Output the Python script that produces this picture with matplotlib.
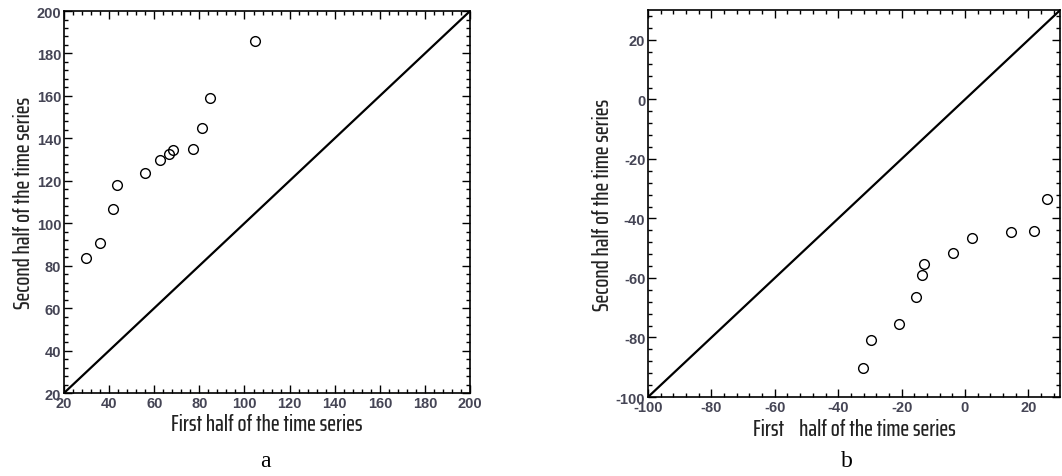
import numpy as np
import matplotlib.pyplot as plt
from matplotlib.ticker import MultipleLocator

# panel a data
xa = [29.6, 36.1, 41.7, 43.5, 56.1, 62.4, 66.7, 68.2, 77.0, 81.0, 84.9, 104.7]
ya = [83.4, 90.9, 106.8, 118.2, 123.6, 129.7, 132.8, 134.4, 135.0, 144.8, 158.9, 185.9]
lim_a = [20, 200]

# panel b data
xb = [-32.1, -29.5, -20.7, -15.4, -13.6, -12.8, -3.8, 2.1, 14.6, 21.7, 25.9]
yb = [-90.4, -80.9, -75.6, -66.5, -58.9, -55.2, -51.6, -46.7, -44.7, -44.1, -33.4]
lim_b = [-100, 30]

plt.rcParams['font.family'] = ['Arial', 'Liberation Sans', 'DejaVu Sans']
plt.rcParams['axes.unicode_minus'] = False

label_font = ['Saira ExtraCondensed', 'DejaVu Sans']
tick_col = '#454555'

fig = plt.figure(figsize=(10.62, 4.77), dpi=100, facecolor='white')
ax1 = fig.add_axes([0.0603, 0.174, 0.3823, 0.8008])
ax2 = fig.add_axes([0.6102, 0.1656, 0.388, 0.811])


def style(ax, lim, major):
    ax.set_xlim(lim)
    ax.set_ylim(lim)
    ax.xaxis.set_major_locator(MultipleLocator(major))
    ax.yaxis.set_major_locator(MultipleLocator(major))
    ax.xaxis.set_minor_locator(MultipleLocator(4))
    ax.yaxis.set_minor_locator(MultipleLocator(4))
    ax.tick_params(which='both', direction='in', top=True, right=True,
                   colors='black', labelcolor=tick_col, width=1)
    ax.tick_params(which='major', length=6, labelsize=10.5, pad=2)
    ax.tick_params(which='minor', length=3)
    for lab in ax.get_xticklabels() + ax.get_yticklabels():
        lab.set_fontweight('bold')
    for s in ax.spines.values():
        s.set_linewidth(1.2)


# panel a
ax1.plot(lim_a, lim_a, color='black', lw=1.6)
ax1.plot(xa, ya, 'o', mfc='none', mec='black', ms=7, mew=1)
style(ax1, lim_a, 20)
ax1.set_xlabel('First half of the time series', family=label_font,
               fontsize=17, fontweight=500, labelpad=2, color='#222222')
ax1.set_ylabel('Second half of the time series', family=label_font,
               fontsize=17, fontweight=500, labelpad=2, color='#222222')

# panel b
ax2.plot(lim_b, lim_b, color='black', lw=1.6)
ax2.plot(xb, yb, 'o', mfc='none', mec='black', ms=7, mew=1)
style(ax2, lim_b, 20)
ax2.set_xlabel('First    half of the time series', family=label_font,
               fontsize=17, fontweight=500, labelpad=3, color='#222222')
ax2.set_ylabel('Second half of the time series', family=label_font,
               fontsize=17, fontweight=500, labelpad=2, color='#222222')

fig.text(265 / 1062, 1 - 462 / 477, 'a', family='Liberation Serif',
         fontsize=17, ha='center', va='center')
fig.text(847 / 1062, 1 - 462 / 477, 'b', family='Liberation Serif',
         fontsize=17, ha='center', va='center')

fig.savefig('out.png', dpi=100)
